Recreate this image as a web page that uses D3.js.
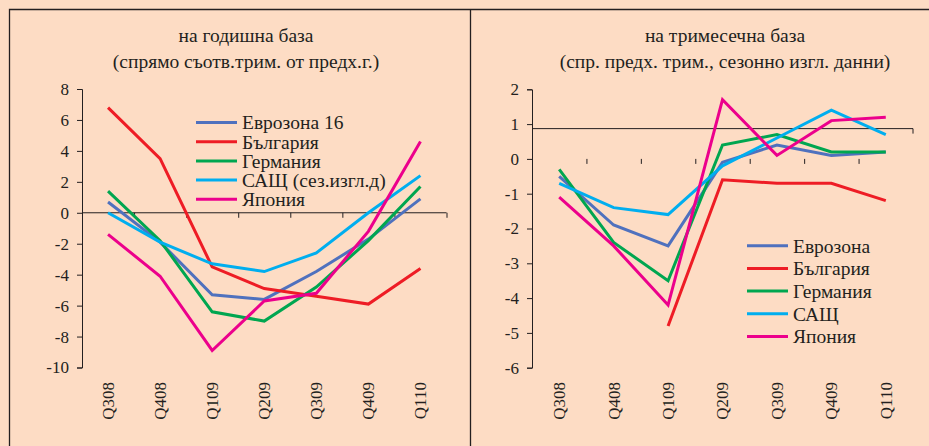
<!DOCTYPE html>
<html>
<head>
<meta charset="utf-8">
<script src="https://cdn.jsdelivr.net/npm/d3@7"></script>
<style>
  body { margin: 0; background: #fddcc4; }
  svg { display: block; }
</style>
</head>
<body>
<div id="chart"></div>
<script>
// categories
const quarters = ["Q308", "Q408", "Q109", "Q209", "Q309", "Q409", "Q110"];

// годишна база (y/y)
const yoyEuro = [0.7, -1.9, -5.3, -5.6, -3.8, -1.7, 0.9];
const yoyBg   = [6.8, 3.5, -3.5, -4.9, -5.4, -5.9, -3.6];
const yoyDe   = [1.4, -1.8, -6.4, -7.0, -4.8, -1.8, 1.7];
const yoyUs   = [0.0, -1.9, -3.3, -3.8, -2.6, 0.0, 2.4];
const yoyJp   = [-1.4, -4.1, -8.9, -5.7, -5.2, -1.2, 4.6];

// тримесечна база (q/q)
const qoqEuro = [-0.5, -1.9, -2.5, -0.1, 0.4, 0.1, 0.2];
const qoqBg   = [null, null, -4.8, -0.6, -0.7, -0.7, -1.2];
const qoqDe   = [-0.3, -2.4, -3.5, 0.4, 0.7, 0.2, 0.2];
const qoqUs   = [-0.7, -1.4, -1.6, -0.2, 0.6, 1.4, 0.7];
const qoqJp   = [-1.1, -2.5, -4.2, 1.7, 0.1, 1.1, 1.2];

const yoyTicks = [8, 6, 4, 2, 0, -2, -4, -6, -8, -10];
const qoqTicks = [2, 1, 0, -1, -2, -3, -4, -5, -6];

const colors = ["#4f71be", "#ee1c25", "#00a650", "#00aeef", "#ec008c"];
const FONT = "'Liberation Serif', 'DejaVu Serif', serif";
const INK = "#231f20";

const width = 929, height = 446;
const svg = d3.select("#chart").append("svg")
    .attr("width", width)
    .attr("height", height);

svg.append("rect").attr("width", width).attr("height", height).attr("fill", "#fddcc4");

// frame
svg.append("path")
    .attr("d", "M9.5,446V9.5H929M470.5,9.5V446")
    .attr("fill", "none")
    .attr("stroke", INK)
    .attr("stroke-width", 1.3);

function panel(opts) {
    const g = svg.append("g");

    const x = d3.scaleBand().domain(quarters).range([opts.x0, opts.x1]).padding(0);
    const y = d3.scaleLinear().domain(opts.domain).range([opts.y0, opts.y1]);
    const bounds = d3.scaleLinear().domain([0, quarters.length]).range([opts.x0, opts.x1]);

    // titles
    [opts.title1, opts.title2].forEach((t, i) => {
        g.append("text")
            .attr("x", opts.cx).attr("y", 42 + i * 26)
            .attr("text-anchor", "middle")
            .style("font-family", FONT)
            .style("font-size", "19.5px")
            .attr("fill", INK)
            .text(t);
    });

    // y axis
    const yAxis = d3.axisLeft(y).tickValues(opts.ticks).tickSize(5).tickSizeOuter(5)
        .tickFormat(d => d < 0 ? "-" + Math.abs(d) : d);
    g.append("g")
        .attr("transform", `translate(${opts.x0},0)`)
        .call(yAxis)
        .call(a => a.selectAll("line, path").attr("stroke", INK))
        .call(a => a.selectAll("text")
            .style("font-family", FONT).style("font-size", "17px")
            .attr("fill", INK).attr("x", -13));

    // horizontal axis line
    const lineY = y(opts.crossAt);
    g.append("line")
        .attr("x1", opts.x0).attr("x2", opts.x1)
        .attr("y1", lineY).attr("y2", lineY)
        .attr("stroke", INK);

    // boundary ticks
    const tickVals = opts.ticksOnLine ? d3.range(1, quarters.length + 1) : d3.range(1, quarters.length);
    g.append("g")
        .attr("transform", `translate(0,${y(0)})`)
        .call(d3.axisBottom(bounds).tickValues(tickVals).tickSize(5).tickFormat(""))
        .call(a => a.select(".domain").remove())
        .call(a => a.selectAll("line").attr("stroke", INK));
    if (!opts.ticksOnLine) {
        g.append("line")
            .attr("x1", opts.x1).attr("x2", opts.x1)
            .attr("y1", lineY).attr("y2", lineY + 5)
            .attr("stroke", INK);
    }

    // category labels
    g.append("g")
        .attr("transform", `translate(0,382)`)
        .call(d3.axisBottom(x).tickSize(0))
        .call(a => a.select(".domain").remove())
        .call(a => a.selectAll("text")
            .style("font-family", FONT)
            .style("font-size", "17px")
            .attr("fill", INK)
            .attr("transform", "rotate(-90)")
            .attr("x", 0).attr("y", 0).attr("dy", "0.35em")
            .attr("text-anchor", "end"));

    // lines
    const line = d3.line()
        .defined(d => d != null)
        .x((d, i) => x(quarters[i]) + x.bandwidth() / 2)
        .y(d => y(d));

    opts.series.forEach((s, i) => {
        g.append("path")
            .datum(s)
            .attr("fill", "none")
            .attr("stroke", colors[i])
            .attr("stroke-width", 3)
            .attr("d", line);
    });

    // legend
    const leg = g.append("g").attr("transform", `translate(${opts.legX},${opts.legY})`);
    opts.names.forEach((n, i) => {
        const row = leg.append("g").attr("transform", `translate(0,${i * opts.legStep})`);
        row.append("line")
            .attr("x1", 0).attr("x2", 41)
            .attr("stroke", colors[i]).attr("stroke-width", 3);
        row.append("text")
            .attr("x", 46).attr("dy", "0.35em")
            .style("font-family", FONT)
            .style("font-size", "19.5px")
            .attr("fill", INK)
            .text(n);
    });
}

panel({
    x0: 82, x1: 446.5, y0: 367.5, y1: 89, domain: [-10, 8], ticks: yoyTicks,
    crossAt: 0, ticksOnLine: true, cx: 246,
    title1: "на годишна база", title2: "(спрямо съотв.трим. от предх.г.)",
    series: [yoyEuro, yoyBg, yoyDe, yoyUs, yoyJp],
    names: ["Еврозона 16", "България", "Германия", "САЩ (сез.изгл.д)", "Япония"],
    legX: 196, legY: 122.5, legStep: 19.2
});

panel({
    x0: 532, x1: 913, y0: 367.7, y1: 89.3, domain: [-6, 2], ticks: qoqTicks,
    crossAt: 0.87, ticksOnLine: false, cx: 725,
    title1: "на тримесечна база", title2: "(спр. предх. трим., сезонно изгл. данни)",
    series: [qoqEuro, qoqBg, qoqDe, qoqUs, qoqJp],
    names: ["Еврозона", "България", "Германия", "САЩ", "Япония"],
    legX: 747, legY: 245.7, legStep: 22.7
});
</script>
</body>
</html>
